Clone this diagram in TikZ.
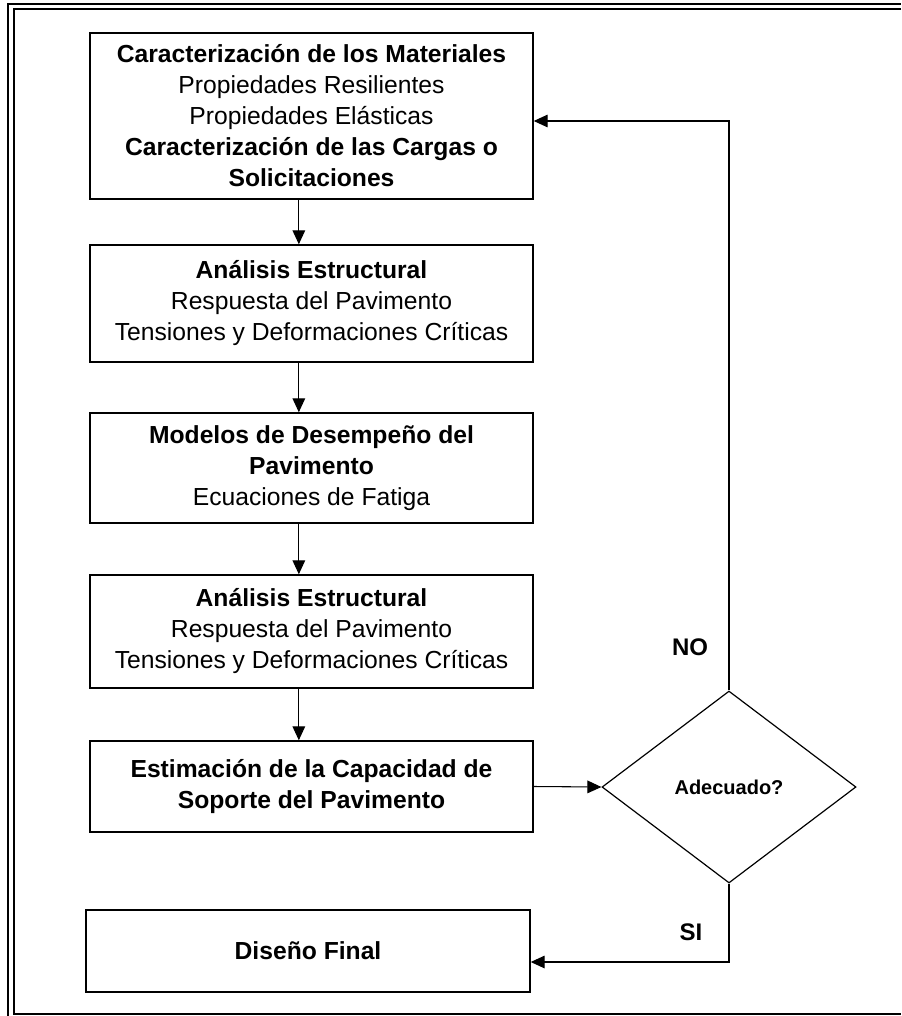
\documentclass[tikz,border=0pt]{standalone}
\usepackage{fontspec}
\setmainfont{Liberation Sans}
\usetikzlibrary{shapes.geometric,arrows.meta}

\tikzset{every picture/.style={line width=0.75pt}}
\tikzset{
  pasobox/.style={draw, line width=1.1pt, minimum width=332.25pt, align=center, inner sep=0pt, font=\fontsize{18.5}{23.25}\selectfont},
  decision/.style={draw, diamond, line width=0.9pt, minimum width=190.5pt, minimum height=144pt, inner sep=0pt, font=\fontsize{15}{18}\selectfont\bfseries},
  etiqueta/.style={inner sep=0.75pt, font=\fontsize{18}{21}\selectfont\bfseries},
  flecha/.style={-{Triangle[length=10.5pt,width=9.5pt]}, line width=0.8pt},
}

\begin{document}
\begin{tikzpicture}[x=0.75pt,y=0.75pt,yscale=-1,xscale=1]
\useasboundingbox (0,0) rectangle (901,1016);

%Page border
\draw [line width=1.9pt] (8,1016) -- (8,4) -- (901,4) ;
\draw [line width=1.5pt] (901,9.5) -- (13.5,9.5) -- (13.5,1014) -- (901,1014) ;

%Shape: Rectangle
\node (mat) [pasobox, minimum height=124.5pt] at (311.5,116) {\textbf{Caracterización de los Materiales}\\Propiedades Resilientes\\Propiedades Elásticas\\\textbf{Caracterización de las Cargas o}\\\textbf{Solicitaciones}};
%Shape: Rectangle
\node (est) [pasobox, minimum height=87.75pt] at (311.5,303.5) {\textbf{Análisis Estructural}\\Respuesta del Pavimento\\Tensiones y Deformaciones Críticas};
%Shape: Rectangle
\node (mod) [pasobox, minimum height=82.5pt] at (311.5,468) {\textbf{Modelos de Desempeño del}\\\textbf{Pavimento}\\Ecuaciones de Fatiga};
%Shape: Rectangle
\node (est2) [pasobox, minimum height=84.75pt] at (311.5,631.5) {\textbf{Análisis Estructural}\\Respuesta del Pavimento\\Tensiones y Deformaciones Críticas};
%Shape: Rectangle
\node (cap) [pasobox, minimum height=68.25pt] at (311.5,786.5) {\textbf{Estimación de la Capacidad de}\\\textbf{Soporte del Pavimento}};
%Shape: Rectangle
\node (fin) [pasobox, minimum width=333pt, minimum height=61.5pt] at (308,951) {\textbf{Diseño Final}};
%Shape: Diamond
\node (ade) [decision] at (729,787) {Adecuado?};

%Straight Lines
\draw [flecha] ([xshift=-9.5pt]mat.south) -- ([xshift=-9.5pt]est.north) ;
\draw [flecha] ([xshift=-9.5pt]est.south) -- ([xshift=-9.5pt]mod.north) ;
\draw [flecha] ([xshift=-9.5pt]mod.south) -- ([xshift=-9.5pt]est2.north) ;
\draw [flecha] ([xshift=-9.5pt]est2.south) -- ([xshift=-9.5pt]cap.north) ;
\draw [flecha] (cap.east) -- (ade.west) ;
%Feedback lines
\coordinate (vuelta) at (729,121) ;
\coordinate (sale) at (729,962) ;
\draw [flecha] (ade.north) -- (vuelta) -- (vuelta -| mat.east) ;
\draw [flecha] (ade.south) -- (sale) -- (sale -| fin.east) ;

% Text Node
\node (no) [etiqueta] at (690,647) {NO};
% Text Node
\node (si) [etiqueta] at (691,932) {SI};

\end{tikzpicture}
\end{document}
